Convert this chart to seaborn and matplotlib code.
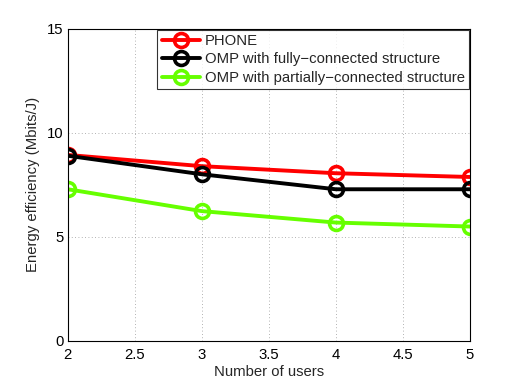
import matplotlib
matplotlib.use("Agg")
import matplotlib.pyplot as plt
import seaborn as sns
import pandas as pd

users = [2, 3, 4, 5]
phone = [8.94, 8.40, 8.06, 7.88]
omp_full = [8.90, 8.01, 7.29, 7.29]
omp_partial = [7.29, 6.24, 5.69, 5.50]
labels = ["PHONE", "OMP with fully\u2212connected structure", "OMP with partially\u2212connected structure"]
colors = ["#ff0000", "#000000", "#66ff00"]

df = pd.DataFrame({
    "users": users * 3,
    "ee": phone + omp_full + omp_partial,
    "series": [labels[0]] * 4 + [labels[1]] * 4 + [labels[2]] * 4,
})

sns.set_style("white")
plt.rcParams["font.family"] = ["Liberation Sans", "DejaVu Sans"]

fig = plt.figure(figsize=(5.18, 3.84), dpi=100)
ax = fig.add_axes([0.131, 0.112, 0.776, 0.813])

sns.lineplot(data=df, x="users", y="ee", hue="series", hue_order=labels,
             palette=colors, marker="o", markersize=10, markerfacecolor="none",
             markeredgewidth=2.6, linewidth=2.8, ax=ax, legend=True)
for line, c in zip(ax.lines, colors):
    line.set_markeredgecolor(c)

fs = 10.7
ax.set_xlim(2, 5)
ax.set_ylim(0, 15)
ax.set_xticks([2, 2.5, 3, 3.5, 4, 4.5, 5])
ax.set_xticklabels(["2", "2.5", "3", "3.5", "4", "4.5", "5"])
ax.set_yticks([0, 5, 10, 15])
ax.grid(True, linestyle=(0, (1, 3)), color="#999999", linewidth=0.6)
ax.tick_params(axis="both", labelsize=fs, direction="in", length=4, colors="black")
ax.tick_params(axis="x", pad=5)
ax.tick_params(axis="y", pad=3)
for s in ax.spines.values():
    s.set_color("black")
    s.set_linewidth(0.8)
ax.set_xlabel("Number of users", fontsize=fs, labelpad=2)
ax.set_ylabel("Energy efficiency (Mbits/J)", fontsize=fs, labelpad=5)

h, l = ax.get_legend_handles_labels()
for hh, c in zip(h, colors):
    hh.set_markeredgecolor(c)
    hh.set_markerfacecolor("none")
leg = ax.legend(h, l, loc="upper right", fontsize=fs, frameon=True, fancybox=False,
                edgecolor="black", borderaxespad=0.05, handlelength=2.6,
                handletextpad=0.3, labelspacing=0.3, borderpad=0.3)
leg.get_frame().set_linewidth(0.8)

fig.savefig("out.png", dpi=100)
